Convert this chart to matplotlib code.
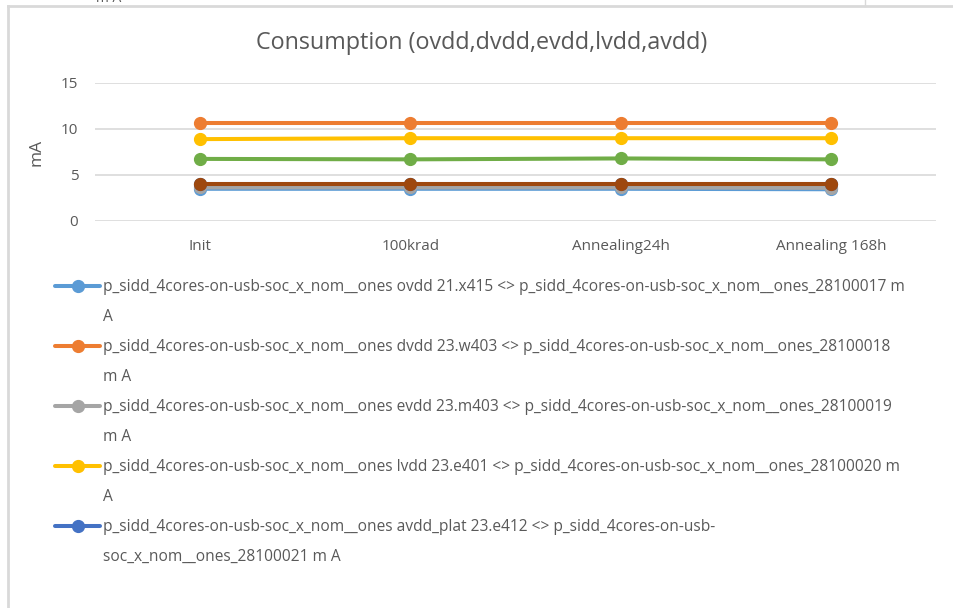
import matplotlib.pyplot as plt
from matplotlib.lines import Line2D

plt.rcParams['font.family'] = ['Open Sans', 'DejaVu Sans']

# data
categories = ["Init", "100krad", "Annealing24h", "Annealing 168h"]
ovdd = [3.5, 3.5, 3.5, 3.45]
dvdd = [10.7, 10.7, 10.7, 10.7]
evdd = [3.65, 3.65, 3.65, 3.6]
lvdd = [8.9, 9.0, 9.0, 9.0]
avdd = [4.0, 4.0, 4.0, 4.0]
series6 = [6.75, 6.7, 6.8, 6.7]
series7 = [4.05, 4.05, 4.05, 4.05]

prefix = "p_sidd_4cores-on-usb-soc_x_nom__ones"
labels = [
    (prefix + " ovdd 21.x415 <> " + prefix + "_28100017 m", "A"),
    (prefix + " dvdd 23.w403 <> " + prefix + "_28100018", "m A"),
    (prefix + " evdd 23.m403 <> " + prefix + "_28100019", "m A"),
    (prefix + " lvdd 23.e401 <> " + prefix + "_28100020 m", "A"),
    (prefix + " avdd_plat 23.e412 <> p_sidd_4cores-on-usb-", "soc_x_nom__ones_28100021 m A"),
]

colors = ['#5B9BD5', '#ED7D31', '#A5A5A5', '#FFC000', '#4472C4', '#70AD47', '#9E480E']
all_series = [ovdd, dvdd, evdd, lvdd, avdd, series6, series7]

text_col = '#595959'
grid_col = '#D9D9D9'

fig = plt.figure(figsize=(9.54, 6.08), dpi=100)
ax = fig.add_axes([95 / 954, 1 - 221 / 608, (936 - 95) / 954, (221 - 83) / 608])

x = list(range(len(categories)))
lines = []
for vals, c in zip(all_series, colors):
    ln, = ax.plot(x, vals, color=c, lw=2.9, marker='o', markersize=8.5,
                  solid_capstyle='round', clip_on=False, zorder=3)
    lines.append(ln)

ax.set_xlim(-0.5, len(categories) - 0.5)
ax.set_ylim(0, 15)
ax.set_yticks([0, 5, 10, 15])
ax.set_xticks(x)
ax.set_xticklabels(categories)
ax.yaxis.grid(True, color=grid_col, lw=1.2)
ax.set_axisbelow(True)
for s in ax.spines.values():
    s.set_visible(False)
ax.tick_params(length=0, colors=text_col, labelsize=11)
ax.tick_params(axis='x', pad=13)
ax.tick_params(axis='y', pad=12)
ax.set_ylabel("mA", color=text_col, fontsize=12.5, labelpad=12)

fig.text(482 / 954, 1 - 43 / 608, "Consumption (ovdd,dvdd,evdd,lvdd,avdd)",
         ha='center', va='center', fontsize=16.8, color=text_col)

# legend: first line with handle, continuation line without
handles, texts = [], []
for ln, (l1, l2) in zip(lines[:5], labels):
    handles.append(ln)
    texts.append(l1)
    handles.append(Line2D([], [], linestyle='none'))
    texts.append(l2)
leg = fig.legend(handles, texts, loc='upper left',
                 bbox_to_anchor=(55 / 954, 1 - 279 / 608), frameon=False,
                 fontsize=11.2, handlelength=2.9, handletextpad=0.2,
                 labelspacing=0.9, borderpad=0, borderaxespad=0)
for t in leg.get_texts():
    t.set_color(text_col)

# screenshot frame remnants
fig.add_artist(Line2D([8 / 954, 8 / 954], [0, 1 - 6 / 608], color=grid_col, lw=2,
                      transform=fig.transFigure))
fig.add_artist(Line2D([8 / 954, 1], [1 - 6 / 608, 1 - 6 / 608], color=grid_col, lw=2,
                      transform=fig.transFigure))
fig.add_artist(Line2D([865 / 954, 865 / 954], [1 - 6 / 608, 1], color=grid_col, lw=1,
                      transform=fig.transFigure))
fig.text(96 / 954, 1 + 2 / 608, "m A", fontsize=10, color=text_col, va='center')

fig.savefig("out.png", dpi=100)
